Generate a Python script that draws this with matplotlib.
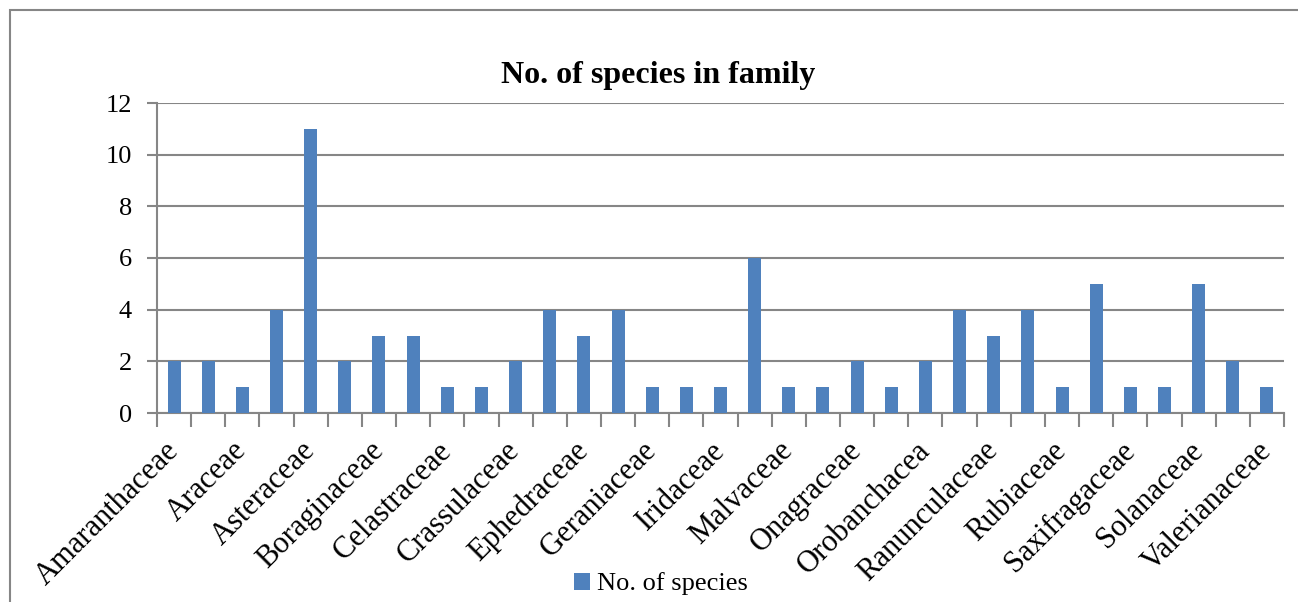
import matplotlib.pyplot as plt
import numpy as np
from matplotlib.patches import Rectangle

# families (every other one is labelled on the axis)
families = [
    'Amaranthaceae', 'Apiaceae', 'Araceae', 'Asparagaceae', 'Asteraceae',
    'Berberidaceae', 'Boraginaceae', 'Brassicaceae', 'Celastraceae',
    'Convolvulaceae', 'Crassulaceae', 'Cyperaceae', 'Ephedraceae',
    'Fabaceae', 'Geraniaceae', 'Grossulariaceae', 'Iridaceae', 'Lamiaceae',
    'Malvaceae', 'Oleaceae', 'Onagraceae', 'Orchidaceae', 'Orobanchacea',
    'Polygonaceae', 'Ranunculaceae', 'Rosaceae', 'Rubiaceae', 'Salicaceae',
    'Saxifragaceae', 'Scrophulariaceae', 'Solanaceae', 'Tamaricaceae',
    'Valerianaceae'
]
species = [2, 2, 1, 4, 11, 2, 3, 3, 1, 1, 2, 4, 3, 4, 1, 1, 1, 6, 1, 1,
           2, 1, 2, 4, 3, 4, 1, 5, 1, 1, 5, 2, 1]
yticks = [0, 2, 4, 6, 8, 10, 12]

plt.rcParams['font.family'] = ['Liberation Serif', 'DejaVu Serif']
blue = '#4F81BD'
grey = '#868686'

fig = plt.figure(figsize=(12.98, 6.02), dpi=100)
ax = fig.add_axes([157/1298, 1 - 413/602, (1284-157)/1298, (413-103)/602])

# outer chart frame (right and bottom edges fall outside the picture)
fig.patches.append(Rectangle((10/1298, -0.1), 1.1, 1.1 - 10/602,
                             transform=fig.transFigure, fill=False,
                             edgecolor=grey, linewidth=1.5))

x = np.arange(len(families))
ax.bar(x, species, width=0.38, color=blue, zorder=3, label='No. of species')

ax.set_xlim(-0.5, len(families) - 0.5)
ax.set_ylim(0, 12)
ax.set_yticks(yticks)
ax.set_yticklabels([str(v) for v in yticks], fontsize=19)
ax.yaxis.grid(True, color=grey, linewidth=1.5, zorder=0)

# boundary ticks between categories, labels on every other category
ax.set_xticks(np.append(x - 0.5, len(families) - 0.5), minor=True)
ax.tick_params(axis='x', which='minor', length=10, width=1.5, color=grey)
ax.set_xticks(x[::2])
ax.set_xticklabels(families[::2], rotation=45, ha='right', va='center',
                   rotation_mode='anchor', fontsize=22)
ax.tick_params(axis='x', which='major', length=0, pad=24)
ax.tick_params(axis='y', length=7, width=1.5, color=grey, pad=11)

for s in ['top', 'right']:
    ax.spines[s].set_visible(False)
for s in ['left', 'bottom']:
    ax.spines[s].set_color(grey)
    ax.spines[s].set_linewidth(1.5)

fig.text(658/1298, 1 - 75/602, 'No. of species in family', ha='center',
         va='center', fontsize=23, fontweight='bold')
fig.legend(loc='center', bbox_to_anchor=(661/1298, 1 - 584/602), frameon=False,
           fontsize=19, handlelength=0.6, handleheight=0.6, handletextpad=0.3)

fig.savefig('out.png', dpi=100)
